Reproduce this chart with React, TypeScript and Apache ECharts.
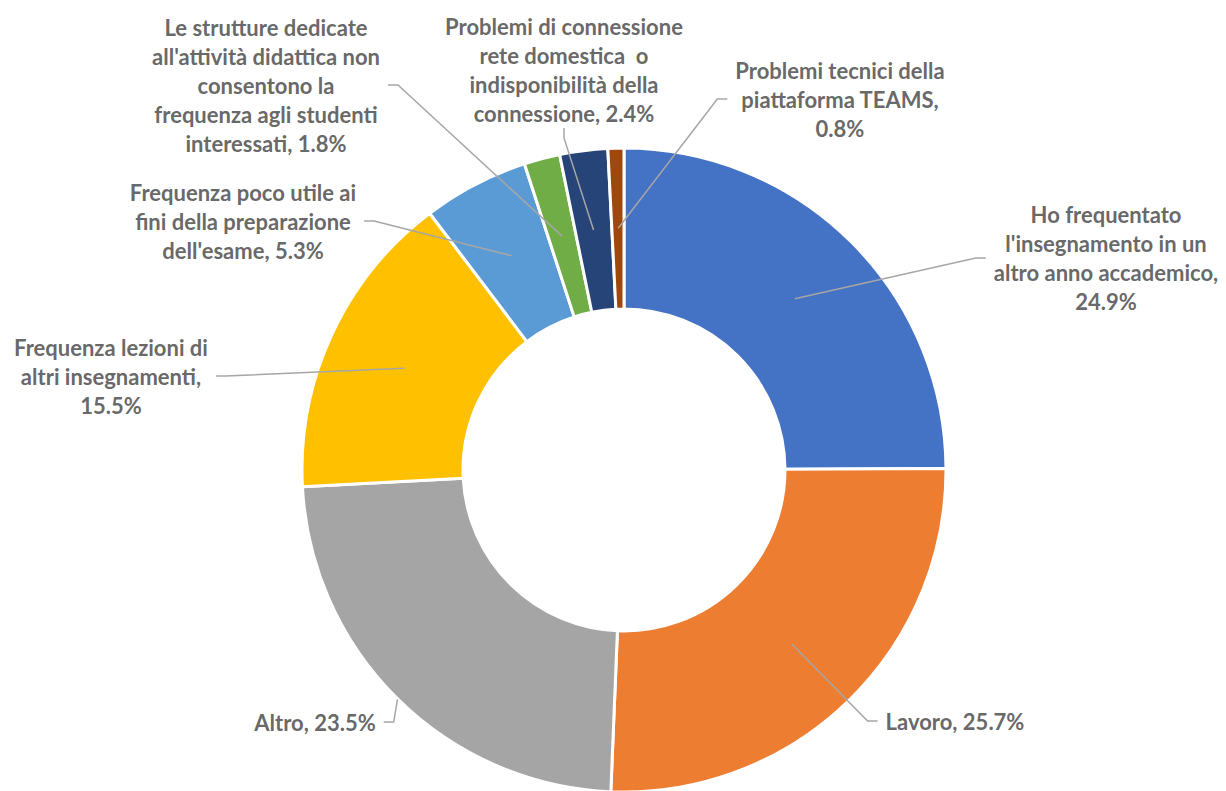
import React, { useEffect, useRef } from 'react';
import * as echarts from 'echarts';

// ---- data ----
const CATEGORIES: string[] = [
  "Ho frequentato\nl'insegnamento in un\naltro anno accademico",
  'Lavoro',
  'Altro',
  'Frequenza lezioni di\naltri insegnamenti',
  "Frequenza poco utile ai\nfini della preparazione\ndell'esame",
  "Le strutture dedicate\nall'attività didattica non\nconsentono la\nfrequenza agli studenti\ninteressati",
  'Problemi di connessione\nrete domestica  o\nindisponibilità della\nconnessione',
  'Problemi tecnici della\npiattaforma TEAMS',
];
const VALUES: number[] = [24.9, 25.7, 23.5, 15.5, 5.3, 1.8, 2.4, 0.8];
const VALUE_ON_NEW_LINE: boolean[] = [true, false, false, true, false, false, false, true];

// ---- style / layout ----
const COLORS = ['#4472C4', '#ED7D31', '#A5A5A5', '#FFC000', '#5B9BD5', '#70AD47', '#264478', '#9E480E'];
const CENTER = [624, 470];
const OUTER_R = 322;
const INNER_R = 161;
const LABEL_CENTERS: number[][] = [
  [1106, 258],
  [955, 721],
  [315, 722],
  [111, 376],
  [243, 221],
  [266, 85],
  [564, 70],
  [840, 99],
];
const ANCHOR_RADIUS = [0.75, 0.75, 1, 0.75, 0.75, 0.75, 0.75, 0.75];

export default function App() {
  const ref = useRef<HTMLDivElement>(null);
  useEffect(() => {
    if (!ref.current) return;
    const chart = echarts.init(ref.current, null, { renderer: 'svg' });
    const total = VALUES.reduce((a, b) => a + b, 0);
    const cum: number[] = [];
    let acc = 0;
    VALUES.forEach((v) => {
      cum.push(acc);
      acc += v;
    });
    chart.setOption({
      animation: false,
      backgroundColor: '#ffffff',
      polar: { center: CENTER, radius: OUTER_R },
      angleAxis: { type: 'value', min: 0, max: total, startAngle: 90, clockwise: true, show: false },
      radiusAxis: { type: 'value', min: 0, max: 1, show: false },
      series: [
        {
          type: 'pie',
          center: CENTER,
          radius: [INNER_R, OUTER_R],
          startAngle: 90,
          clockwise: true,
          silent: true,
          label: { show: false },
          labelLine: { show: false },
          itemStyle: { borderColor: '#ffffff', borderWidth: 3 },
          data: VALUES.map((v, i) => ({
            name: CATEGORIES[i],
            value: v,
            itemStyle: { color: COLORS[i] },
          })),
        },
        {
          type: 'scatter',
          coordinateSystem: 'polar',
          silent: true,
          z: 5,
          symbolSize: 1,
          itemStyle: { color: 'rgba(0,0,0,0)' },
          data: VALUES.map((v, i) => ({
            name: CATEGORIES[i],
            value: [ANCHOR_RADIUS[i], cum[i] + v / 2],
          })),
          label: {
            show: true,
            formatter: (p: any) => {
              const i = p.dataIndex;
              return CATEGORIES[i] + ',' + (VALUE_ON_NEW_LINE[i] ? '\n' : ' ') + VALUES[i].toFixed(1) + '%';
            },
            color: '#404040',
            fontFamily: 'Lato',
            fontWeight: 'bold',
            fontSize: 22,
            lineHeight: 29,
            align: 'center',
            padding: [0, 8],
          },
          labelLine: {
            show: true,
            length2: 10,
            lineStyle: { color: '#A6A6A6', width: 1.5 },
          },
          labelLayout: (params: any) => {
            const c = LABEL_CENTERS[params.dataIndex];
            return { x: c[0], y: c[1], align: 'center', verticalAlign: 'middle' };
          },
        },
      ],
    });
    return () => chart.dispose();
  }, []);
  return (
    <div
      ref={ref}
      style={{ position: 'fixed', left: 0, top: 0, width: 1226, height: 791 }}
    />
  );
}
